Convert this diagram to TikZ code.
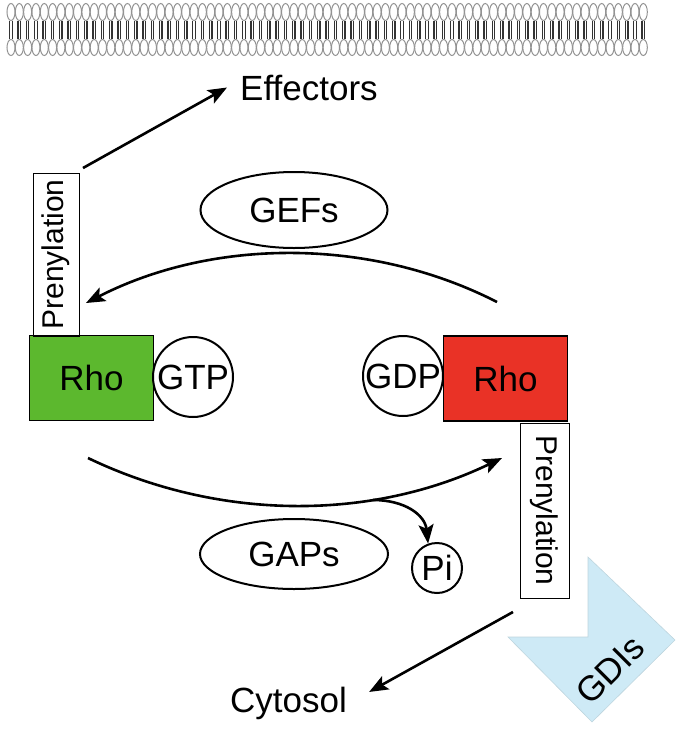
\documentclass[tikz,border=0pt]{standalone}
\usepackage{fontspec}
\setmainfont{Liberation Sans}
\usetikzlibrary{arrows.meta,shapes.geometric}
\definecolor{rhogreen}{RGB}{92,184,46}
\definecolor{rhored}{RGB}{233,50,38}
\definecolor{gdiblue}{RGB}{206,234,246}
\tikzset{
        big/.style={font=\fontsize{35}{42}\selectfont},
        small/.style={font=\fontsize{30}{36}\selectfont},
        rhobox/.style={rectangle,draw,line width=1.3pt,inner sep=0pt,minimum width=124pt,minimum height=85pt,big},
        nucl/.style={circle,draw,line width=2pt,inner sep=0pt,minimum size=80pt,big},
        prenbox/.style={rectangle,draw,line width=1pt,inner sep=0pt,small},
        enzyme/.style={ellipse,draw,line width=2pt,inner sep=0pt,big},
        flow/.style={line width=2.6pt,-{Stealth[length=19pt,width=15pt,inset=4pt]}},
        lipidhead/.style={draw=gray!85,line width=1pt},
        lipidtail/.style={draw=black!80,line width=1.3pt},
        gdi/.style={fill=gdiblue,draw=gdiblue!80!gray,line width=0.6pt}
    }
\begin{document}
\begin{tikzpicture}[x=1pt,y=-1pt]
\useasboundingbox (0,0) rectangle (685,732);

% membrane
\foreach \i in {0,...,76}{
  \draw[lipidhead] ({11+8.32*\i},12) ellipse [x radius=4pt,y radius=8.5pt];
  \draw[lipidhead] ({11+8.32*\i},47.5) ellipse [x radius=4pt,y radius=8pt];
  \draw[lipidtail] ({9.8+8.32*\i},21) -- ({9.8+8.32*\i},39) ({12.2+8.32*\i},21) -- ({12.2+8.32*\i},39);
}

\draw (91.5,378) node(RHOL)[rhobox,fill=rhogreen]{Rho};
\draw (56,254.5) node(PRENL)[prenbox,rotate=90,minimum width=163pt,minimum height=46pt]{Prenylation};
\draw (193,377) node(GTP)[nucl]{GTP};
\draw (505.5,378.5) node(RHOR)[rhobox,fill=rhored]{Rho};
\draw (403,376) node(GDP)[nucl]{GDP};
\draw (544.5,510.5) node(PRENR)[prenbox,rotate=-90,minimum width=175pt,minimum height=49pt]{Prenylation};

\draw (294,210) node(GEF)[enzyme,minimum width=187pt,minimum height=76pt]{GEFs};
\draw (294,554) node(GAP)[enzyme,minimum width=188pt,minimum height=70pt]{GAPs};
\draw (437,568) node(PI)[circle,draw,line width=2pt,minimum size=50pt,inner sep=0pt,big]{Pi};

\draw (240,100) node(EFF)[anchor=base west,inner sep=0pt,big]{Effectors};
\draw (230,712) node(CYT)[anchor=base west,inner sep=0pt,big]{Cytosol};

\draw[gdi] (588,557) -- (675,640) -- (592,722) -- (508,637) -- (588,637) -- cycle;
\draw (610,670) node(GDI)[rotate=45,inner sep=0pt,big]{GDIs};

\coordinate (EFFOUT) at (83,168);
\coordinate (GEFIN) at (497,302);
\coordinate (GEFOUT) at (86,303);
\coordinate (GAPIN) at (88,458);
\coordinate (GAPOUT) at (502,458);
\coordinate (PIOUT) at (373,500);
\coordinate (CYTIN) at (513,612);

\draw[flow] (EFFOUT) -- ([xshift=-13pt]EFF.west);
\draw[flow] (GEFIN) .. controls (370,237) and (213,238) .. (GEFOUT);
\draw[flow] (GAPIN) .. controls (219,521) and (371,521) .. (GAPOUT);
\draw[flow] (PIOUT) .. controls (405,500) and (425,515) .. (PI.110);
\draw[flow] (CYTIN) -- ([xshift=22pt,yshift=11pt]CYT.east);

\end{tikzpicture}
\end{document}
